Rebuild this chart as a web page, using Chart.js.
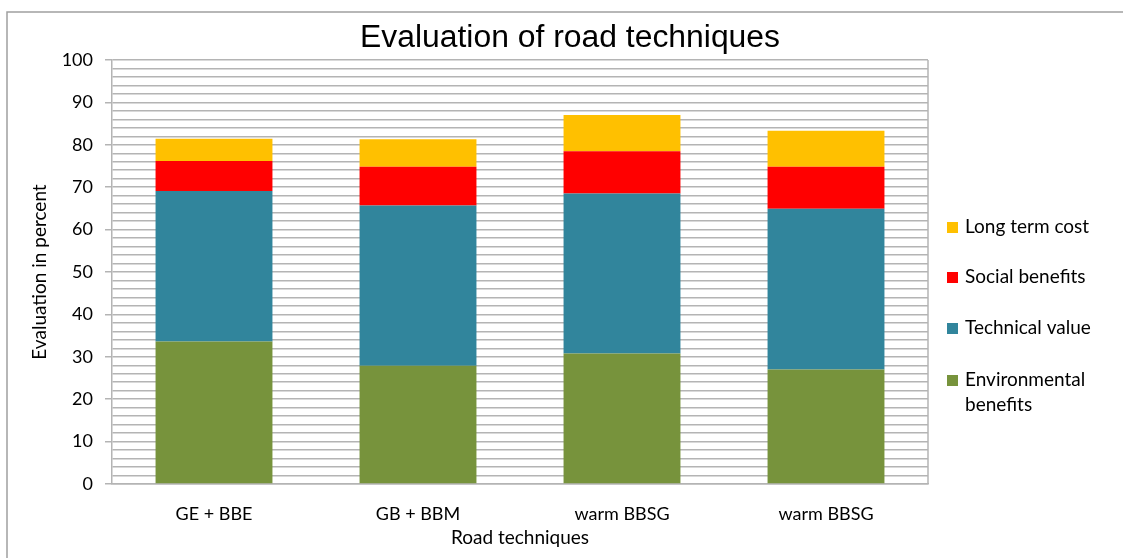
<!DOCTYPE html>
<html>
<head>
<meta charset="utf-8">
<script src="https://cdn.jsdelivr.net/npm/chart.js@4.4.1/dist/chart.umd.min.js"></script>
<style>
  html, body { margin: 0; padding: 0; background: #fff; }
  #wrap { width: 1123px; height: 558px; position: relative; }
</style>
</head>
<body>
<div id="wrap"><canvas id="chart1"></canvas></div>
<script>
var categories = ['GE + BBE', 'GB + BBM', 'warm BBSG', 'warm BBSG'];
var environmental = [33.6, 27.9, 30.8, 27.0];
var technical = [35.5, 37.8, 37.7, 37.9];
var social = [7.1, 9.1, 10.0, 9.9];
var longTerm = [5.2, 6.5, 8.5, 8.5];
var seriesNames = ['Environmental benefits', 'Technical value', 'Social benefits', 'Long term cost'];
var chartTitle = 'Evaluation of road techniques';

var gridGray = '#b4b4b4';
var labelFont = 'Lato, "Open Sans", sans-serif';

// outer frame, title, right edge of plot and the legend
var extras = {
    id: 'extras',
    afterDraw: function(chart) {
        var c = chart.ctx;
        var a = chart.chartArea;
        c.save();
        c.strokeStyle = '#a0a0a0';
        c.lineWidth = 1.5;
        c.beginPath();
        c.moveTo(7, 560);
        c.lineTo(7, 12);
        c.lineTo(1125, 12);
        c.stroke();

        c.strokeStyle = gridGray;
        c.beginPath();
        c.moveTo(a.right, a.top);
        c.lineTo(a.right, a.bottom);
        c.stroke();

        // title, squeezed a little like the narrow original face
        c.font = '31px "Liberation Sans", Arial, sans-serif';
        c.textBaseline = 'middle';
        c.textAlign = 'center';
        c.fillStyle = '#000';
        var w = c.measureText(chartTitle).width;
        c.save();
        c.translate(570, 38);
        c.scale(420 / w, 1);
        c.fillText(chartTitle, 0, 0);
        c.restore();

        var rows = [227, 277, 328, 380];
        var ds = chart.data.datasets.slice().reverse();
        c.textAlign = 'left';
        c.font = '19px ' + labelFont;
        ds.forEach(function(d, i) {
            c.fillStyle = d.backgroundColor;
            c.fillRect(947, rows[i] - 5, 11, 11);
            c.fillStyle = '#000';
            var words = d.label.split(' ');
            if (d.label === 'Environmental benefits') {
                c.fillText(words[0], 965, rows[i]);
                c.fillText(words[1], 965, rows[i] + 25);
            } else {
                c.fillText(d.label, 965, rows[i]);
            }
        });
        c.restore();
    }
};

var ctx = document.getElementById('chart1').getContext('2d');
var myChart = new Chart(ctx, {
    type: 'bar',
    data: {
        labels: categories,
        datasets: [
            { label: seriesNames[0], data: environmental, backgroundColor: '#77933C' },
            { label: seriesNames[1], data: technical, backgroundColor: '#31859C' },
            { label: seriesNames[2], data: social, backgroundColor: '#FF0000' },
            { label: seriesNames[3], data: longTerm, backgroundColor: '#FFC000' }
        ]
    },
    options: {
        responsive: true,
        maintainAspectRatio: false,
        animation: false,
        layout: { padding: { left: 7, right: 195, top: 60, bottom: 0 } },
        datasets: { bar: { barPercentage: 0.573, categoryPercentage: 1 } },
        plugins: {
            legend: { display: false },
            tooltip: { enabled: false },
            title: { display: false }
        },
        scales: {
            x: {
                stacked: true,
                grid: { display: false, drawTicks: false },
                border: { display: true, color: gridGray, width: 1.5 },
                ticks: { color: '#000', padding: 19, font: { family: labelFont, size: 18 } },
                title: {
                    display: true,
                    text: 'Road techniques',
                    color: '#000',
                    font: { family: labelFont, size: 19 },
                    padding: { top: 0, bottom: 9 }
                },
                afterFit: function(s) { s.height = 74; }
            },
            y: {
                stacked: true,
                min: 0,
                max: 100,
                border: { display: true, color: gridGray, width: 1.5 },
                grid: {
                    color: gridGray,
                    lineWidth: 1.5,
                    tickLength: 7,
                    tickColor: function(ctx) {
                        return ctx.tick && ctx.tick.value % 10 === 0 ? gridGray : 'rgba(0,0,0,0)';
                    }
                },
                ticks: {
                    stepSize: 2,
                    autoSkip: false,
                    padding: 12,
                    color: '#000',
                    font: { family: labelFont, size: 18 },
                    callback: function(v) { return v % 10 === 0 ? v : ''; }
                },
                title: {
                    display: true,
                    text: 'Evaluation in percent',
                    color: '#000',
                    font: { family: labelFont, size: 19 },
                    padding: { top: 21, bottom: 0 }
                },
                afterFit: function(s) { s.width = 105; }
            }
        }
    },
    plugins: [extras]
});
</script>
</body>
</html>
